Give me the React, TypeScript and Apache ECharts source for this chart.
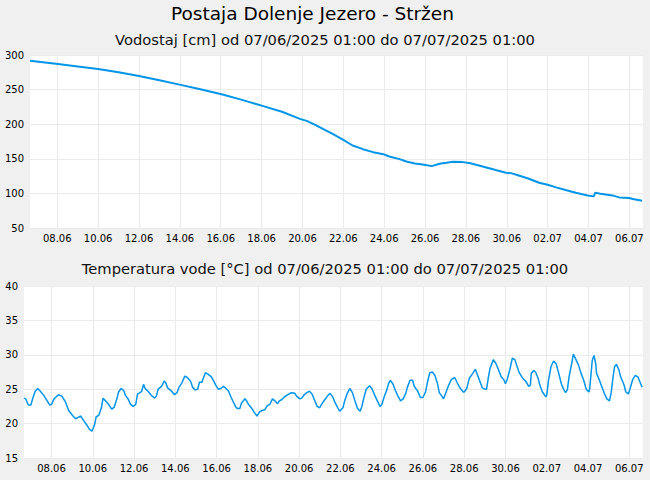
import React, { useEffect, useRef } from 'react';
import * as echarts from 'echarts';

const FONT = 'DejaVu Sans';
const LINE_COLOR = '#0095e8';

const mainTitle = 'Postaja Dolenje Jezero - Stržen';
const levelTitle = 'Vodostaj [cm] od 07/06/2025 01:00 do 07/07/2025 01:00';
const tempTitle = 'Temperatura vode [°C] od 07/06/2025 01:00 do 07/07/2025 01:00';

// hours counted from 06.06 00:00 of the axis labels
const dayTicks = [48, 96, 144, 192, 240, 288, 336, 384, 432, 480, 528, 576, 624, 672, 720];

const levelHours = [
  16, 49, 72, 96, 120, 144, 168, 193, 216, 241, 264, 289, 312, 333, 341, 351, 360, 372,
  384, 395, 407, 419, 431, 438, 450, 458, 468, 477, 488, 497, 505, 513, 524, 532, 540,
  552, 563, 575, 581, 591, 602, 614, 624, 634, 645, 657, 671, 678, 680, 686, 700, 708,
  720, 724, 735,
];
const levelValues = [
  291.8, 287, 283.5, 279.8, 275, 269.7, 263.5, 256.8, 250.5, 243.4, 235.5, 226.5, 218,
  207.7, 204.8, 199, 193.3, 185.6, 177.4, 169.2, 163.9, 159.6, 156.7, 153.4, 149.5, 146.2,
  143.3, 141.8, 139.4, 142.8, 144.2, 145.7, 145.2, 143.8, 141.4, 137.5, 133.7, 129.8,
  129.3, 125.5, 121.2, 115.4, 112.5, 108.7, 104.8, 101, 97.1, 95.7, 101, 99.5, 97.1, 94.2,
  93.3, 91.8, 89.4,
];

const tempHours = [
  16, 18, 20, 21, 24, 26, 29, 32, 35, 39, 43, 46, 48, 51, 56, 60, 64, 68, 73, 76, 79, 82,
  85, 89, 92, 95, 98, 100, 103, 106, 108, 111, 115, 118, 121, 124, 126, 129, 132, 134,
  137, 140, 143, 146, 148, 151, 153, 155, 157, 161, 164, 168, 170, 172, 176, 179, 181,
  183, 187, 191, 194, 196, 200, 203, 206, 210, 212, 215, 218, 220, 223, 224, 227, 230,
  234, 237, 239, 242, 245, 248, 251, 254, 257, 260, 262, 264, 267, 269, 273, 275, 277,
  281, 284, 287, 290, 293, 296, 299, 302, 305, 308, 311, 313, 316, 319, 323, 327, 331,
  333, 337, 339, 342, 345, 348, 351, 354, 357, 360, 362, 366, 369, 372, 375, 378, 381,
  383, 387, 389, 392, 395, 398, 401, 404, 407, 409, 411, 414, 418, 421, 424, 427, 430,
  432, 435, 438, 440, 442, 445, 448, 451, 454, 457, 460, 462, 465, 468, 470, 474, 477,
  480, 483, 486, 488, 491, 494, 497, 499, 502, 504, 507, 510, 513, 517, 520, 523, 527,
  528, 531, 534, 538, 541, 544, 547, 549, 552, 554, 556, 558, 562, 565, 569, 571, 574,
  576, 578, 581, 584, 587, 589, 592, 596, 600, 603, 605, 606, 609, 611, 614, 616, 619,
  623, 624, 626, 629, 632, 635, 638, 641, 644, 646, 648, 650, 653, 655, 658, 661, 664,
  667, 670, 673, 674, 677, 679, 681, 682, 685, 688, 691, 694, 697, 699, 701, 703, 705,
  708, 710, 714, 716, 719, 721, 724, 727, 730, 732, 735,
];
const tempValues = [
  23.7, 23.6, 23.0, 22.7, 22.7, 23.6, 24.7, 25.1, 24.7, 24.1, 23.3, 22.7, 22.8, 23.6, 24.2,
  24.0, 23.2, 21.9, 21.1, 20.7, 20.9, 21.1, 20.5, 19.8, 19.2, 18.9, 19.8, 21.0, 21.2, 22.3,
  23.7, 23.3, 22.7, 22.1, 22.4, 23.6, 24.6, 25.1, 24.8, 24.1, 23.6, 22.8, 22.5, 22.8, 24.3,
  24.5, 24.7, 25.7, 25.1, 24.6, 24.1, 23.7, 24.0, 25.0, 25.4, 26.2, 25.9, 25.2, 24.8, 24.2,
  24.5, 25.2, 26.0, 26.9, 26.7, 26.1, 25.3, 24.9, 25.0, 26.0, 26.0, 26.4, 27.4, 27.2, 26.8,
  26.1, 25.6, 25.0, 25.1, 25.4, 25.1, 24.7, 23.8, 23.0, 22.5, 22.2, 22.2, 23.0, 23.6, 23.3,
  22.8, 22.2, 21.6, 21.1, 21.7, 21.9, 22.0, 22.6, 22.8, 23.6, 23.3, 22.9, 23.3, 23.5, 23.9,
  24.2, 24.5, 24.4, 24.0, 23.6, 23.7, 24.2, 24.5, 24.7, 24.3, 23.4, 22.5, 22.3, 22.8, 23.5,
  24.0, 24.4, 23.9, 23.0, 22.3, 21.8, 22.3, 23.3, 24.4, 25.1, 24.5, 23.3, 22.2, 21.8, 22.5,
  23.6, 25.0, 25.5, 25.0, 24.1, 23.3, 22.5, 22.7, 23.9, 24.9, 25.8, 26.3, 25.8, 24.8, 24.0,
  23.3, 23.6, 24.4, 25.3, 26.3, 26.3, 25.4, 24.7, 23.8, 23.8, 24.6, 26.4, 27.4, 27.5, 27.0,
  25.8, 24.5, 24.0, 23.6, 24.6, 25.6, 26.4, 26.7, 25.9, 25.2, 24.6, 24.6, 25.1, 26.6, 27.3,
  27.9, 26.9, 25.9, 25.2, 25.0, 25.0, 26.6, 28.0, 29.3, 28.7, 27.5, 26.8, 26.4, 25.8, 26.4,
  27.8, 29.5, 29.3, 28.5, 27.4, 26.6, 26.1, 25.4, 25.6, 27.3, 27.7, 27.5, 26.6, 25.6, 24.6,
  23.9, 24.1, 26.2, 28.3, 29.1, 28.7, 27.3, 25.8, 24.9, 24.5, 24.9, 26.8, 28.7, 30.1, 29.3,
  28.5, 27.3, 26.3, 25.0, 24.6, 25.1, 29.2, 29.9, 28.7, 27.3, 26.4, 25.4, 24.4, 23.6, 23.3,
  24.5, 26.6, 28.3, 28.6, 27.8, 26.8, 25.6, 24.6, 24.3, 25.1, 26.4, 27.0, 26.8, 26.2, 25.3,
];

const pad = (n: number) => (n < 10 ? '0' + n : String(n));
const dayLabel = (h: number) => {
  const d = new Date(Date.UTC(2025, 5, 6) + h * 3600000);
  return pad(d.getUTCDate()) + '.' + pad(d.getUTCMonth() + 1);
};

const xAxisBase = (gridIndex: number) => ({
  type: 'value',
  gridIndex,
  min: 16,
  max: 736,
  axisLine: { show: false },
  axisTick: { show: false, customValues: dayTicks },
  axisLabel: {
    fontFamily: FONT,
    fontSize: 10,
    color: '#000',
    margin: 5,
    customValues: dayTicks,
    formatter: (v: number) => dayLabel(v),
  },
  splitLine: { show: true, lineStyle: { color: '#ebebeb', width: 1 } },
});

const App: React.FC = () => {
  const chartRef = useRef<HTMLDivElement>(null);

  useEffect(() => {
    document.body.style.margin = '0';
    if (!chartRef.current) return;
    const chart = echarts.init(chartRef.current, undefined, { renderer: 'svg' });

    const option = {
      animation: false,
      backgroundColor: '#f0f0f0',
      title: [
        {
          text: mainTitle,
          left: 171,
          top: 4,
          padding: 0,
          textStyle: { fontFamily: FONT, fontSize: 18.5, fontWeight: 'normal', color: '#000' },
        },
        {
          text: levelTitle,
          left: 'center',
          top: 32,
          padding: 0,
          textStyle: { fontFamily: FONT, fontSize: 14.7, fontWeight: 'normal', color: '#111' },
        },
        {
          text: tempTitle,
          left: 'center',
          top: 261,
          padding: 0,
          textStyle: { fontFamily: FONT, fontSize: 14.7, fontWeight: 'normal', color: '#111' },
        },
      ],
      grid: [
        { left: 30, top: 55, width: 613, height: 173, show: true, backgroundColor: '#fff', borderWidth: 0 },
        { left: 24, top: 286, width: 619, height: 172, show: true, backgroundColor: '#fff', borderWidth: 0 },
      ],
      xAxis: [xAxisBase(0), xAxisBase(1)],
      yAxis: [
        {
          type: 'value',
          gridIndex: 0,
          min: 50,
          max: 300,
          interval: 50,
          axisLine: { show: false },
          axisTick: { show: false },
          axisLabel: { fontFamily: FONT, fontSize: 10, color: '#000', margin: 6 },
          splitLine: { lineStyle: { color: '#ebebeb' } },
        },
        {
          type: 'value',
          gridIndex: 1,
          min: 15,
          max: 40,
          interval: 5,
          axisLine: { show: false },
          axisTick: { show: false },
          axisLabel: { fontFamily: FONT, fontSize: 10, color: '#000', margin: 6 },
          splitLine: { lineStyle: { color: '#ebebeb' } },
        },
      ],
      series: [
        {
          type: 'line',
          xAxisIndex: 0,
          yAxisIndex: 0,
          showSymbol: false,
          lineStyle: { color: LINE_COLOR, width: 2 },
          itemStyle: { color: LINE_COLOR },
          data: levelHours.map((h, i) => [h, levelValues[i]]),
        },
        {
          type: 'line',
          xAxisIndex: 1,
          yAxisIndex: 1,
          showSymbol: false,
          lineStyle: { color: LINE_COLOR, width: 1.5 },
          itemStyle: { color: LINE_COLOR },
          data: tempHours.map((h, i) => [h, tempValues[i]]),
        },
      ],
    };

    chart.setOption(option);
    return () => {
      chart.dispose();
    };
  }, []);

  return (
    <div
      ref={chartRef}
      style={{ position: 'fixed', left: 0, top: 0, width: 650, height: 480 }}
    />
  );
};

export default App;
